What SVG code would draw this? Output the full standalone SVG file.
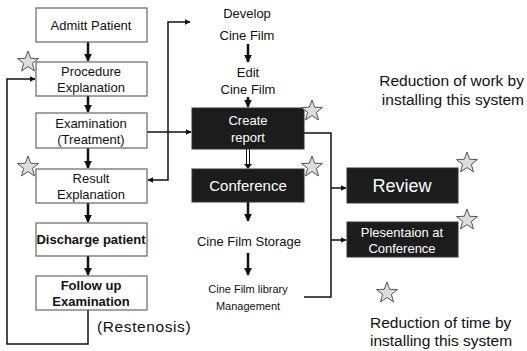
<svg xmlns="http://www.w3.org/2000/svg" width="527" height="351" viewBox="0 0 527 351">
<style>
.box{fill:#fff;stroke:#666;stroke-width:1.2}
.dark{fill:#1c1c1c;stroke:#333;stroke-width:1}
.t{font-family:"Liberation Sans",Arial,sans-serif;font-size:13px;fill:#111;text-anchor:middle}
.tb{font-family:"Liberation Sans",Arial,sans-serif;font-size:13px;fill:#111;text-anchor:middle;font-weight:bold}
.w{font-family:"Liberation Sans",Arial,sans-serif;font-size:13px;fill:#fff;text-anchor:middle}
.s{font-family:"Liberation Sans",Arial,sans-serif;font-size:15.5px;fill:#111}
.ln{fill:none;stroke:#111;stroke-width:1.5}
.thk{fill:none;stroke:#111;stroke-width:2.5}
.star{fill:#ddd;stroke:#555;stroke-width:1}
</style>
<defs>
<marker id="ah" viewBox="0 0 10 10" refX="9" refY="5" markerWidth="6" markerHeight="6" orient="auto" markerUnits="userSpaceOnUse"><path d="M0,0 L10,5 L0,10 Z" fill="#111"/></marker>
<marker id="ahb" viewBox="0 0 10 10" refX="9" refY="5" markerWidth="8" markerHeight="8" orient="auto" markerUnits="userSpaceOnUse"><path d="M0,0 L10,5 L0,10 Z" fill="#111"/></marker>
<path id="st" d="M0,-11 L2.70,-3.72 L10.46,-3.40 L4.37,1.42 L6.47,8.90 L0,4.6 L-6.47,8.90 L-4.37,1.42 L-10.46,-3.40 L-2.70,-3.72 Z"/>
</defs>

<g id="connectors">
<line class="thk" x1="88" y1="42" x2="88" y2="61" marker-end="url(#ahb)"/>
<line class="thk" x1="88" y1="96" x2="88" y2="112" marker-end="url(#ahb)"/>
<line class="thk" x1="88" y1="148" x2="88" y2="168" marker-end="url(#ahb)"/>
<line class="thk" x1="88" y1="203" x2="88" y2="222" marker-end="url(#ahb)"/>
<line class="thk" x1="88" y1="256" x2="88" y2="275" marker-end="url(#ahb)"/>
<polyline class="ln" points="88,310 88,344 7,344 7,79 35,79" marker-end="url(#ah)"/>
<line class="ln" x1="147" y1="132" x2="191" y2="132" marker-end="url(#ah)"/>
<polyline class="ln" points="168,132 168,22 190,22" marker-end="url(#ah)"/>
<polyline class="ln" points="168,132 168,180 148,180" marker-end="url(#ah)"/>
<line class="thk" x1="248" y1="44" x2="248" y2="62" marker-end="url(#ahb)"/>
<line class="thk" x1="248" y1="97" x2="248" y2="107" marker-end="url(#ahb)"/>
<line x1="246.5" y1="149" x2="246.5" y2="166" stroke="#111" stroke-width="1"/>
<line x1="249.5" y1="149" x2="249.5" y2="166" stroke="#111" stroke-width="1"/>
<path d="M244,164 L252,164 L248,169 Z" fill="#111"/>
<line class="thk" x1="248" y1="202" x2="248" y2="221" marker-end="url(#ahb)"/>
<line class="thk" x1="248" y1="253" x2="248" y2="275" marker-end="url(#ahb)"/>
<polyline class="ln" points="304,133 331,133 331,297 304,297"/>
<line class="ln" x1="331" y1="188" x2="346" y2="188" marker-end="url(#ah)"/>
<line class="ln" x1="331" y1="240" x2="346" y2="240" marker-end="url(#ah)"/>
</g>

<g id="admit"><rect class="box" x="36" y="8" width="111" height="34"/><text class="t" x="91" y="30">Admitt Patient</text></g>
<g id="procedure"><rect class="box" x="36" y="62" width="111" height="34"/><text class="t" x="91" y="76">Procedure</text><text class="t" x="91" y="92">Explanation</text></g>
<g id="examination"><rect class="box" x="36" y="113" width="111" height="35"/><text class="t" x="91" y="128">Examination</text><text class="t" x="91" y="144">(Treatment)</text></g>
<g id="result"><rect class="box" x="36" y="169" width="111" height="34"/><text class="t" x="91" y="183">Result</text><text class="t" x="91" y="199">Explanation</text></g>
<g id="discharge"><rect class="box" x="36" y="223" width="111" height="33"/><text class="tb" x="91" y="244">Discharge patient</text></g>
<g id="followup"><rect class="box" x="36" y="276" width="111" height="34"/><text class="tb" x="91" y="290">Follow up</text><text class="tb" x="91" y="306">Examination</text></g>

<g id="develop"><text class="t" x="247" y="18">Develop</text><text class="t" x="247" y="40">Cine Film</text></g>
<g id="edit"><text class="t" x="248" y="77">Edit</text><text class="t" x="248" y="94">Cine Film</text></g>
<g id="create"><rect class="dark" x="192" y="108" width="112" height="41"/><text class="w" x="248" y="125">Create</text><text class="w" x="248" y="142">report</text></g>
<g id="conference"><rect class="dark" x="192" y="169" width="112" height="33"/><text class="w" x="248" y="191" style="font-size:15px">Conference</text></g>
<g id="storage"><text class="t" x="249" y="246">Cine Film Storage</text></g>
<g id="library"><text class="t" x="248" y="293" style="font-size:11px">Cine Film library</text><text class="t" x="248" y="310" style="font-size:11px">Management</text></g>
<g id="review"><rect class="dark" x="347" y="168" width="111" height="35"/><text class="w" x="402" y="192" style="font-size:18px">Review</text></g>
<g id="presentation"><rect class="dark" x="347" y="222" width="111" height="35"/><text class="w" x="402" y="237">Plesentaion at</text><text class="w" x="402" y="253">Conference</text></g>

<g id="restenosis"><text class="s" x="97" y="332" style="letter-spacing:0.6px">(Restenosis)</text></g>

<g id="stars">
<use href="#st" class="star" x="28" y="62"/>
<use href="#st" class="star" x="28" y="167"/>
<use href="#st" class="star" x="312" y="111"/>
<use href="#st" class="star" x="312" y="167"/>
<use href="#st" class="star" x="467" y="163"/>
<use href="#st" class="star" x="467" y="220"/>
<use href="#st" class="star" x="387" y="293"/>
</g>

<g id="legend">
<text class="s" x="524" y="86" text-anchor="end">Reduction of work by</text>
<text class="s" x="524" y="105" text-anchor="end">installing this system</text>
<text class="s" x="370" y="328">Reduction of time by</text>
<text class="s" x="370" y="346">installing this system</text>
</g>
</svg>
